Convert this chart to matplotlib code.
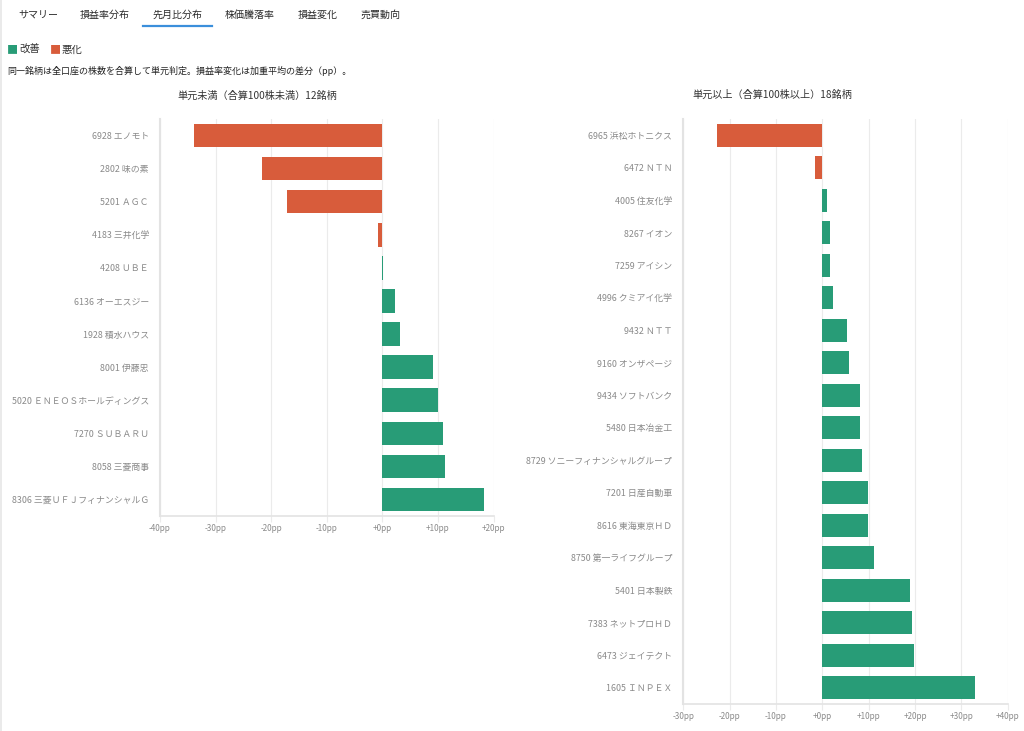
import matplotlib
matplotlib.use("Agg")
import matplotlib.pyplot as plt
from matplotlib.ticker import FuncFormatter

plt.rcParams['font.family'] = ['Noto Sans CJK JP', 'DejaVu Sans']

# ── データ ───────────────────────────────────────
left_names = [
    "6928 エノモト", "2802 味の素", "5201 ＡＧＣ", "4183 三井化学",
    "4208 ＵＢＥ", "6136 オーエスジー", "1928 積水ハウス", "8001 伊藤忠",
    "5020 ＥＮＥＯＳホールディングス", "7270 ＳＵＢＡＲＵ", "8058 三菱商事",
    "8306 三菱ＵＦＪフィナンシャルＧ",
]
left_vals = [-33.9, -21.6, -17.1, -0.8, 0.1, 2.2, 3.1, 9.2, 10.0, 11.0, 11.2, 18.3]

right_names = [
    "6965 浜松ホトニクス", "6472 ＮＴＮ", "4005 住友化学", "8267 イオン",
    "7259 アイシン", "4996 クミアイ化学", "9432 ＮＴＴ", "9160 オンザページ",
    "9434 ソフトバンク", "5480 日本冶金工", "8729 ソニーフィナンシャルグループ",
    "7201 日産自動車", "8616 東海東京ＨＤ", "8750 第一ライフグループ",
    "5401 日本製鉄", "7383 ネットプロＨＤ", "6473 ジェイテクト", "1605 ＩＮＰＥＸ",
]
right_vals = [-22.7, -1.5, 1.0, 1.6, 1.6, 2.4, 5.4, 5.8, 8.1, 8.2, 8.5,
              9.8, 9.9, 11.2, 19.0, 19.4, 19.7, 33.0]

tabs = ["サマリー", "損益率分布", "先月比分布", "株価騰落率", "損益変化", "売買動向"]
tab_x = [18, 80, 153, 225, 298, 361]

GREEN = "#289c77"
RED = "#d85c3b"
GRID = "#ebebeb"
TICK_C = "#8a8a8a"

W, H = 1024, 731
fig = plt.figure(figsize=(W / 100, H / 100), dpi=100)
fig.patch.set_facecolor("white")


def px(x, y):
    return x / W, 1 - y / H


# ── タブ ─────────────────────────────────────────────
for name, x in zip(tabs, tab_x):
    fig.text(*px(x, 15), name, fontsize=7.2, color="#2a2a2a", va="center", ha="left")
fig.add_artist(plt.Line2D([143 / W, 212 / W], [1 - 26 / H] * 2, color="#3b8fdb", lw=1.6))

# ── 凡例と注記 ──────────────────────────────────────
fig.text(*px(7, 50), "■", color=GREEN, fontsize=8, va="center")
fig.text(*px(19, 50), "改善", color="#333333", fontsize=7.5, va="center")
fig.text(*px(50, 50), "■", color=RED, fontsize=8, va="center")
fig.text(*px(62, 50), "悪化", color="#333333", fontsize=7.5, va="center")
fig.text(*px(7, 71), "同一銘柄は全口座の株数を合算して単元判定。損益率変化は加重平均の差分（pp）。",
         color="#222222", fontsize=6.5, va="center")

fig.text(*px(257, 96), "単元未満（合算100株未満）12銘柄", ha="center", va="center",
         fontsize=7.3, color="#333333")
fig.text(*px(772, 95), "単元以上（合算100株以上）18銘柄", ha="center", va="center",
         fontsize=7.3, color="#333333")


def pp_fmt(v, pos):
    return f"{v:+.0f}pp" if v != 0 else "+0pp"


def draw_panel(rect, names, vals, xlim, ticks):
    ax = fig.add_axes(rect)
    colors = [GREEN if v >= 0 else RED for v in vals]
    y = list(range(len(names)))
    ax.barh(y, vals, height=0.71, color=colors, zorder=3)
    ax.set_ylim(len(names) - 0.5, -0.5)
    ax.set_yticks(y)
    ax.set_yticklabels(names, fontsize=6.4, color=TICK_C)
    ax.set_xlim(*xlim)
    ax.set_xticks(ticks)
    ax.xaxis.set_major_formatter(FuncFormatter(pp_fmt))
    ax.tick_params(axis="x", labelsize=5.8, colors=TICK_C, length=4, color=GRID, pad=2)
    ax.tick_params(axis="y", length=0, pad=8)
    ax.grid(axis="x", color=GRID, lw=0.8, zorder=0)
    for s in ["top", "right"]:
        ax.spines[s].set_visible(False)
    ax.spines["left"].set_color("#e3e3e3")
    ax.spines["left"].set_linewidth(1.5)
    ax.spines["bottom"].set_color("#e3e3e3")
    ax.spines["bottom"].set_linewidth(1.2)
    return ax


draw_panel([160 / W, 1 - 516 / H, 333.5 / W, 397 / H], left_names, left_vals,
           (-40, 20), [-40, -30, -20, -10, 0, 10, 20])
draw_panel([683.3 / W, 1 - 704 / H, 324.3 / W, 585 / H], right_names, right_vals,
           (-30, 40), [-30, -20, -10, 0, 10, 20, 30, 40])

fig.add_artist(plt.Line2D([0.5 / W] * 2, [0, 1], color="#e6e6e6", lw=1.2))

fig.savefig("out.png", dpi=100, facecolor="white")
